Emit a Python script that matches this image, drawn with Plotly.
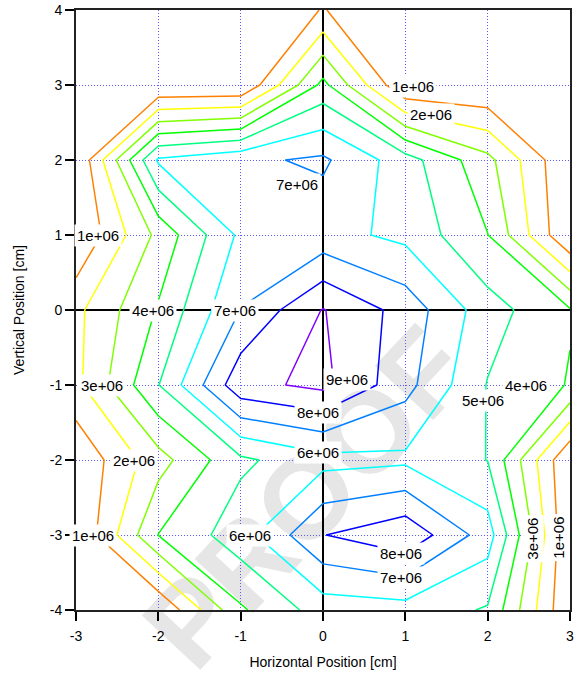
import plotly.graph_objects as go

# grid coordinates (cm)
x_pos = [-3, -2, -1, 0, 1, 2, 3]
y_pos = [-4, -3, -2, -1, 0, 1, 2, 3, 4]

# measured values, one row per vertical position (bottom to top)
row_m4 = [0.0, 0.0, 3.86e6, 5.45e6, 5.59e6, 4.90e6, 0.0]
row_m3 = [0.0, 4.02e6, 5.55e6, 7.97e6, 8.75e6, 6.50e6, 0.0]
row_m2 = [0.17e6, 2.60e6, 4.81e6, 5.66e6, 5.80e6, 4.98e6, 0.0]
row_m1 = [1.74e6, 4.97e6, 8.70e6, 9.25e6, 7.34e6, 4.95e6, 3.93e6]
row_0 = [1.75e6, 4.10e6, 7.03e6, 9.05e6, 7.61e6, 5.43e6, 4.08e6]
row_p1 = [0.0, 3.28e6, 6.22e6, 6.35e6, 5.75e6, 4.02e6, 0.0]
row_p2 = [0.0, 6.14e6, 6.80e6, 7.17e6, 5.45e6, 3.30e6, 0.0]
row_p3 = [0.0, 0.0, 0.0, 4.29e6, 0.0, 0.0, 0.0]
row_p4 = [0.0, 0.0, 0.0, 1.05e6, 0.0, 0.0, 0.0]
z_rows = [row_m4, row_m3, row_m2, row_m1, row_0, row_p1, row_p2, row_p3, row_p4]

level_start, level_end, level_step = 1e6, 9e6, 1e6
level_colors = ["#ff8000", "#ffff00", "#80ff00", "#00ff00", "#00ff80",
                "#00ffff", "#0080ff", "#0000ff", "#8000ff"]

tick_x = [-3, -2, -1, 0, 1, 2, 3]
tick_x_text = ["-3", "-2", "-1", "0", "1", "2", "3"]
tick_y = [-4, -3, -2, -1, 0, 1, 2, 3, 4]
tick_y_text = ["-4", "-3", "-2", "-1", "0", "1", "2", "3", "4"]

# contour labels: text, x, y, angle
label_text = ["1e+06", "1e+06", "2e+06", "7e+06", "4e+06", "7e+06", "3e+06",
              "9e+06", "8e+06", "4e+06", "5e+06", "6e+06", "2e+06", "1e+06",
              "6e+06", "8e+06", "7e+06", "3e+06", "1e+06"]
label_x = [-2.73, 1.09, 1.31, -0.32, -2.06, -1.07, -2.69,
           0.29, -0.06, 2.46, 1.94, -0.06, -2.29, -2.79,
           -0.89, 0.95, 0.95, 2.55, 2.85]
label_y = [0.99, 2.98, 2.61, 1.68, 0.0, 0.0, -1.0,
           -0.92, -1.37, -1.01, -1.21, -1.90, -2.0, -3.0,
           -3.0, -3.25, -3.57, -3.05, -3.04]
label_angle = [0, 0, 0, 0, 0, 0, 0,
               0, 0, 0, 0, 0, 0, 0,
               0, 0, 0, -90, -90]

n = len(level_colors)
colorscale = [[i / (n - 1), c] for i, c in enumerate(level_colors)]

FONT = "Liberation Sans, Arial, Helvetica, sans-serif"

fig = go.Figure()
fig.add_trace(go.Contour(
    x=x_pos, y=y_pos, z=z_rows,
    autocontour=False,
    contours=dict(start=level_start, end=level_end, size=level_step,
                  coloring="lines", showlabels=False),
    colorscale=colorscale, zmin=level_start, zmax=level_end,
    line=dict(width=1.5, smoothing=0),
    showscale=False, hoverinfo="skip",
))

annotations = []
for t, lx, ly, ang in zip(label_text, label_x, label_y, label_angle):
    annotations.append(dict(
        x=lx, y=ly, xref="x", yref="y", text=t, showarrow=False,
        textangle=ang, font=dict(family=FONT, size=15, color="black"),
        bgcolor="white", borderpad=2,
    ))

fig.update_layout(
    width=583, height=674,
    margin=dict(l=76, r=13, t=10, b=64),
    paper_bgcolor="white", plot_bgcolor="white",
    showlegend=False,
    font=dict(family=FONT, size=14, color="black"),
    annotations=annotations,
    shapes=[dict(
        type="rect", xref="paper", yref="paper",
        x0=-0.25, x1=1.15, y0=-0.3, y1=0.7,
        line=dict(width=0), fillcolor="rgba(0,0,0,0)", layer="below",
        label=dict(text="<b>PROOF</b>", textangle=-47,
                   textposition="middle center",
                   font=dict(family=FONT, size=116, color="#e6e6e6")),
    )],
)

axis_common = dict(
    showgrid=True, gridcolor="#5a5aff", gridwidth=1, griddash="1px,2px",
    zeroline=True, zerolinecolor="black", zerolinewidth=1.5,
    showline=True, linecolor="#222222", linewidth=2, mirror=True,
    ticks="outside", ticklen=9, tickwidth=1.5, tickcolor="black",
    tickfont=dict(family=FONT, size=14, color="black"),
    automargin=False,
)
fig.update_xaxes(range=[-3, 3], tickvals=tick_x, ticktext=tick_x_text,
                 ticklabelstandoff=3,
                 title=dict(text="Horizontal Position [cm]", standoff=14,
                            font=dict(family=FONT, size=14)),
                 **axis_common)
fig.update_yaxes(range=[-4, 4], tickvals=tick_y, ticktext=tick_y_text,
                 title=dict(text="Vertical Position [cm]", standoff=22,
                            font=dict(family=FONT, size=14)),
                 **axis_common)

fig.write_html("out.html")
